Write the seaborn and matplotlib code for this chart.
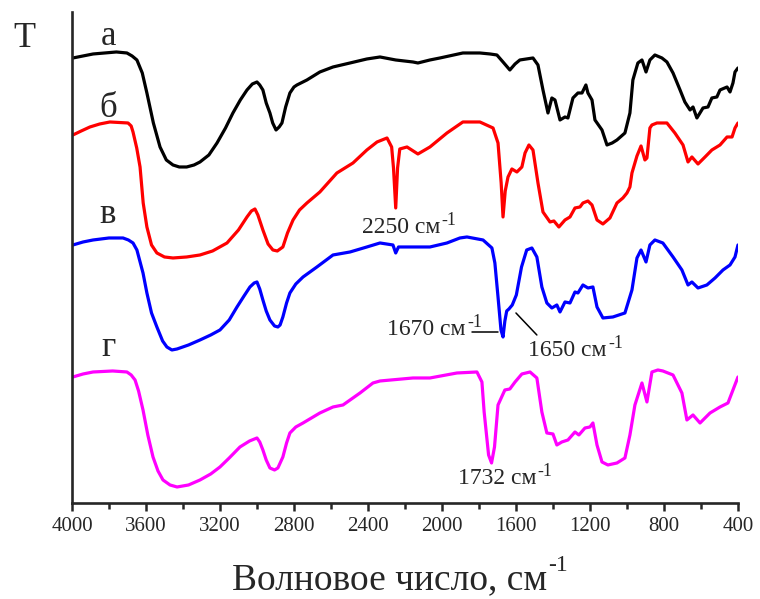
import matplotlib
matplotlib.use("Agg")
import matplotlib.pyplot as plt
import seaborn as sns
import pandas as pd

# IR spectra (wavenumber, cm^-1 ; transmittance, arbitrary offset units)
wn_a = [3995, 3886, 3760, 3703, 3675, 3649, 3620, 3595, 3560, 3524, 3490, 3454, 3420, 3380,
        3340, 3308, 3260, 3216, 3170, 3130, 3090, 3054, 3025, 3000, 2985, 2968, 2950, 2930,
        2915, 2897, 2880, 2865, 2845, 2822, 2800, 2784, 2730, 2660, 2589, 2497, 2406, 2335,
        2250, 2157, 2130, 2065, 2011, 1887, 1795, 1740, 1703, 1670, 1633, 1605, 1579, 1508,
        1481, 1454, 1427, 1406, 1389, 1362, 1335, 1319, 1292, 1265, 1243, 1222, 1211, 1189,
        1173, 1135, 1108, 1080, 1054, 1011, 984, 968, 957, 941, 919, 897, 876, 849, 811,
        784, 751, 713, 687, 659, 643, 622, 589, 562, 541, 514, 497, 459, 443, 427, 416, 400]
t_a = [445, 449, 451, 450, 447, 443, 430, 410, 380, 356, 343, 338, 336, 336,
       338, 341, 348, 360, 375, 390, 403, 413, 419, 421, 418, 413, 400, 390,
       380, 373, 376, 380, 396, 410, 416, 418, 423, 431, 436, 440, 444, 446,
       443, 441, 440, 443, 445, 450, 450, 449, 448, 441, 433, 439, 443, 445,
       438, 413, 390, 405, 403, 383, 386, 385, 405, 410, 410, 418, 410, 403,
       383, 373, 358, 360, 363, 370, 390, 423, 430, 440, 443, 431, 443, 448, 445,
       441, 430, 413, 401, 393, 396, 385, 395, 396, 405, 406, 413, 416, 411, 420, 431, 435]

wn_b = [3995, 3950, 3903, 3850, 3795, 3697, 3680, 3670, 3650, 3632, 3615, 3595, 3570, 3541,
        3500, 3454, 3380, 3308, 3240, 3162, 3100, 3054, 3030, 3011, 2995, 2968, 2940, 2914,
        2890, 2860, 2835, 2805, 2770, 2730, 2660, 2568, 2481, 2406, 2351, 2297, 2272, 2262,
        2250, 2240, 2228, 2189, 2130, 2065, 1973, 1887, 1795, 1724, 1697, 1680, 1670, 1658,
        1643, 1622, 1595, 1568, 1551, 1530, 1508, 1481, 1454, 1416, 1395, 1368, 1335, 1308,
        1281, 1254, 1238, 1211, 1189, 1162, 1130, 1092, 1054, 1022, 1000, 984, 973, 946, 924,
        903, 892, 876, 865, 838, 784, 741, 697, 670, 649, 616, 578, 541, 497, 459, 432, 416, 400]
t_b = [368, 372, 376, 379, 381, 380, 377, 371, 355, 336, 300, 276, 258, 250,
       246, 245, 246, 248, 252, 260, 273, 286, 292, 294, 288, 273, 259, 253,
       252, 256, 270, 283, 293, 300, 311, 330, 340, 353, 361, 365, 356, 335,
       295, 335, 354, 356, 349, 356, 370, 381, 381, 375, 360, 320, 286, 312,
       326, 334, 331, 336, 350, 358, 353, 320, 291, 281, 282, 276, 283, 286,
       295, 296, 300, 302, 298, 283, 279, 285, 300, 305, 310, 316, 330, 347, 357,
       343, 345, 375, 378, 380, 380, 370, 358, 341, 346, 339, 346, 353, 358, 366, 366, 375, 380]

wn_c = [3995, 3940, 3886, 3800, 3724, 3695, 3670, 3649, 3616, 3595, 3570, 3541, 3510, 3487,
        3460, 3432, 3370, 3308, 3250, 3200, 3150, 3108, 3070, 3038, 3015, 3000, 2985, 2968,
        2950, 2930, 2905, 2887, 2875, 2860, 2840, 2822, 2790, 2751, 2676, 2589, 2497, 2406,
        2335, 2265, 2250, 2235, 2065, 1973, 1903, 1865, 1778, 1730, 1714, 1697, 1681, 1670,
        1660, 1650, 1638, 1620, 1598, 1570, 1542, 1514, 1487, 1460, 1433, 1406, 1379, 1362,
        1335, 1308, 1281, 1265, 1238, 1211, 1184, 1162, 1130, 1076, 1011, 973, 946, 924, 897,
        876, 849, 806, 751, 703, 670, 649, 616, 568, 524, 481, 443, 416, 400]
t_c = [258, 261, 263, 265, 265, 263, 260, 253, 230, 210, 190, 176, 162, 156,
       153, 154, 158, 163, 168, 173, 183, 196, 207, 216, 220, 221, 214, 203,
       192, 183, 177, 176, 178, 186, 200, 210, 219, 226, 236, 248, 251, 256,
       260, 258, 250, 256, 256, 260, 265, 266, 263, 255, 240, 206, 173, 166,
       182, 192, 194, 198, 208, 236, 253, 255, 246, 216, 200, 195, 198, 191,
       201, 200, 211, 210, 218, 215, 216, 196, 185, 186, 190, 213, 245, 253, 241,
       258, 263, 260, 246, 233, 218, 221, 215, 218, 225, 233, 238, 246, 258]

wn_d = [3995, 3940, 3886, 3780, 3703, 3680, 3659, 3640, 3616, 3590, 3562, 3535, 3508, 3470,
        3432, 3370, 3308, 3250, 3200, 3150, 3092, 3040, 3000, 2985, 2968, 2950, 2930, 2905,
        2887, 2860, 2840, 2822, 2790, 2751, 2660, 2589, 2535, 2443, 2373, 2335, 2157, 2065,
        1919, 1811, 1784, 1772, 1748, 1732, 1716, 1697, 1660, 1633, 1605, 1568, 1524, 1487,
        1460, 1433, 1400, 1379, 1352, 1319, 1281, 1260, 1227, 1200, 1184, 1162, 1135, 1103,
        1054, 1011, 984, 957, 919, 892, 865, 833, 806, 751, 703, 676, 643, 605, 551, 497, 454, 400]
t_d = [126, 129, 131, 132, 131, 128, 123, 112, 93, 68, 46, 32, 23, 18,
       16, 18, 23, 29, 36, 45, 56, 62, 65, 61, 53, 43, 35, 33,
       35, 46, 60, 70, 76, 80, 90, 96, 98, 110, 120, 122, 125, 125,
       130, 131, 121, 91, 48, 40, 56, 98, 113, 114, 121, 129, 131, 125,
       91, 70, 69, 58, 61, 63, 71, 68, 75, 76, 80, 58, 41, 38,
       40, 45, 68, 98, 120, 101, 131, 133, 132, 128, 110, 83, 88, 80, 90, 96, 100, 126]

spectra = [("а", wn_a, t_a, "#000000"),
           ("б", wn_b, t_b, "#ff0000"),
           ("в", wn_c, t_c, "#0000ff"),
           ("г", wn_d, t_d, "#ff00ff")]

x_ticks = [4000, 3600, 3200, 2800, 2400, 2000, 1600, 1200, 800, 400]

sns.set_style("ticks")
plt.rcParams["font.family"] = ["Liberation Serif", "DejaVu Serif"]

fig = plt.figure(figsize=(7.6, 5.99), dpi=100)
ax = fig.add_axes([0.0947, 0.1603, 0.8763, 0.8197])

for name, wn, t, col in spectra:
    df = pd.DataFrame({"wn": wn, "T": t})
    sns.lineplot(data=df, x="wn", y="T", color=col, lw=2.3, ax=ax,
                 estimator=None, sort=False,
                 solid_joinstyle="round", solid_capstyle="round")

ax.set_xlim(4000, 400)
ax.set_ylim(0, 491)
ax.set_xticks(x_ticks)
ax.set_xticklabels([str(v) for v in x_ticks], fontsize=15)
ax.set_xticks(range(3800, 400, -400), minor=True)
ax.set_yticks([])
ax.set_ylabel("")
ax.set_xlabel("")
for s in ("top", "right"):
    ax.spines[s].set_visible(False)
for s in ("left", "bottom"):
    ax.spines[s].set_linewidth(1.9)
ax.tick_params(axis="x", which="major", length=6, width=1.8, direction="out", pad=4)
ax.tick_params(axis="x", which="minor", length=4, width=1.8, direction="out")


def sup_text(x, y, main, sup, size, **kw):
    t = ax.text(x, y, main, fontsize=size, va="baseline", clip_on=False, **kw)
    ax.annotate(sup, xy=(1, 0.82), xycoords=t, xytext=(1, 0),
                textcoords="offset points", fontsize=size * 0.75,
                ha="left", va="center")
    return t


# curve letters and ordinate symbol
ax.text(3805, 458, "а", fontsize=25, ha="center", va="baseline")
ax.text(3805, 386, "б", fontsize=25, ha="center", va="baseline")
ax.text(3805, 280, "в", fontsize=25, ha="center", va="baseline")
ax.text(3805, 147, "г", fontsize=25, ha="center", va="baseline")
ax.text(4259, 456, "T", fontsize=26, ha="center", va="baseline", clip_on=False)

# band assignments
sup_text(2432, 270, "2250 см", "-1", 17)
sup_text(2297, 168, "1670 см", "-1", 17)
sup_text(1535, 147, "1650 см", "-1", 17)
sup_text(1914, 19, "1732 см", "-1", 17)
ax.plot([1838, 1697], [171, 171], color="black", lw=1.1)
ax.plot([1600, 1487], [190, 168], color="black", lw=1.1)

# axis title
xl = fig.text(0.512, 0.017, "Волновое число, см", fontsize=27, ha="center",
              va="baseline")
ax.annotate("-1", xy=(1, 0.9), xycoords=xl, xytext=(1, 0),
            textcoords="offset points", fontsize=17, ha="left", va="center")

fig.savefig("out.png", dpi=100, facecolor="white")
